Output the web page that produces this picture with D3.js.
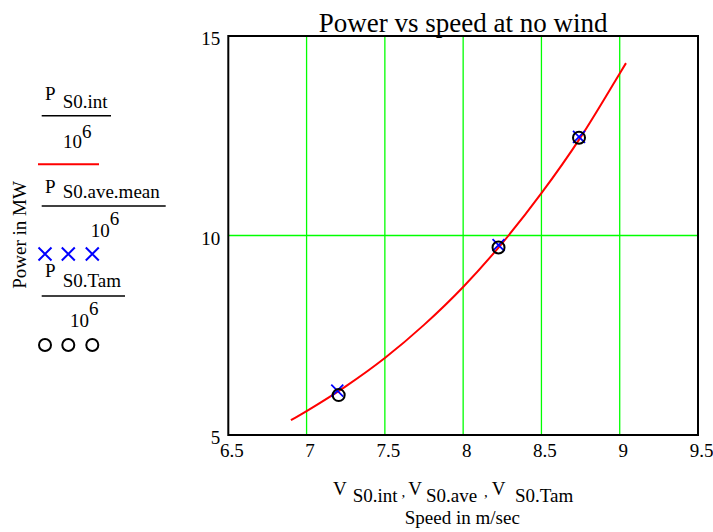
<!DOCTYPE html>
<html>
<head>
<meta charset="utf-8">
<script src="https://cdn.jsdelivr.net/npm/d3@7/dist/d3.min.js"></script>
<style>
  html, body { margin: 0; padding: 0; background: #fff; }
  svg { display: block; }
  text { font-family: "Liberation Serif", "Times New Roman", serif; fill: #000; }
</style>
</head>
<body>
<script>
// Interpolated power curve (MW) against speed (m/s)
const speedCurve = [6.90, 7.00, 7.25, 7.50, 7.75, 8.00, 8.25, 8.50, 8.75, 9.00, 9.04];
const powerCurve = [5.37, 5.60, 6.22, 6.93, 7.76, 8.71, 9.81, 11.06, 12.46, 14.06, 14.32];

// Averaged measurements
const speedAve = [7.196, 8.226, 8.740];
const powerAve = [6.11, 9.76, 12.47];

// Tamura measurements
const speedTam = [7.205, 8.226, 8.740];
const powerTam = [6.00, 9.70, 12.45];

const xTicks = [6.5, 7, 7.5, 8, 8.5, 9, 9.5];
const yTicks = [5, 10, 15];
const xGrid = [7, 7.5, 8, 8.5, 9];
const yGrid = [10];

const W = 713, H = 532;
const plotL = 228.3, plotR = 698, plotT = 36, plotB = 435;

const svg = d3.select("body").append("svg").attr("width", W).attr("height", H);

const x = d3.scaleLinear().domain([6.5, 9.5]).range([plotL, plotR]);
const y = d3.scaleLinear().domain([5, 15]).range([plotB, plotT]);

// grid
svg.append("g").selectAll("line").data(xGrid).join("line")
  .attr("x1", d => x(d)).attr("x2", d => x(d))
  .attr("y1", plotT).attr("y2", plotB)
  .attr("stroke", "#00ff00").attr("stroke-width", 1.3);
svg.append("g").selectAll("line").data(yGrid).join("line")
  .attr("y1", d => y(d)).attr("y2", d => y(d))
  .attr("x1", plotL).attr("x2", plotR)
  .attr("stroke", "#00ff00").attr("stroke-width", 1.3);

// axes (tick labels only, frame drawn separately)
const xAxis = d3.axisBottom(x).tickValues(xTicks).tickSize(0).tickPadding(9)
  .tickFormat(d3.format("~g"));
svg.append("g").attr("transform", `translate(0,${plotB})`).call(xAxis)
  .call(g => g.select(".domain").remove())
  .call(g => g.attr("font-family", null))
  .selectAll("text").attr("font-size", 19).attr("fill", "#000").attr("dx", 3);

const yAxis = d3.axisLeft(y).tickValues(yTicks).tickSize(0).tickPadding(8)
  .tickFormat(d3.format("~g"));
svg.append("g").attr("transform", `translate(${plotL},0)`).call(yAxis)
  .call(g => g.select(".domain").remove())
  .call(g => g.attr("font-family", null))
  .selectAll("text").attr("font-size", 19).attr("fill", "#000").attr("dy", "0.45em");

// frame
svg.append("rect").attr("x", plotL).attr("y", plotT)
  .attr("width", plotR - plotL).attr("height", plotB - plotT)
  .attr("fill", "none").attr("stroke", "#000").attr("stroke-width", 2);

// curve
const curveData = speedCurve.map((s, i) => [s, powerCurve[i]]);
svg.append("path").datum(curveData)
  .attr("d", d3.line().x(d => x(d[0])).y(d => y(d[1])).curve(d3.curveMonotoneX))
  .attr("fill", "none").attr("stroke", "#ff0000").attr("stroke-width", 2);

// marker helpers
function crossPath(cx, cy, r) {
  return `M${cx - r},${cy - r}L${cx + r},${cy + r}M${cx - r},${cy + r}L${cx + r},${cy - r}`;
}

// Averaged points: blue crosses
svg.append("g").selectAll("path").data(speedAve.map((s, i) => [s, powerAve[i]])).join("path")
  .attr("d", d => crossPath(x(d[0]), y(d[1]), 6))
  .attr("stroke", "#0000ff").attr("stroke-width", 1.8).attr("fill", "none");

// Tamura points: black circles
svg.append("g").selectAll("circle").data(speedTam.map((s, i) => [s, powerTam[i]])).join("circle")
  .attr("cx", d => x(d[0])).attr("cy", d => y(d[1])).attr("r", 6)
  .attr("fill", "none").attr("stroke", "#000").attr("stroke-width", 2);

// title
svg.append("text").attr("x", (plotL + plotR) / 2).attr("y", 31.5)
  .attr("text-anchor", "middle").attr("font-size", 27).text("Power vs speed at no wind");

// x-axis labels
const xl = svg.append("text").attr("x", 333).attr("y", 495).attr("font-size", 19);
xl.append("tspan").text("V");
xl.append("tspan").attr("x", 352.7).attr("y", 501.7).text("S0.int");
xl.append("tspan").attr("x", 401.5).attr("y", 497).attr("font-size", 15).text(",");
xl.append("tspan").attr("x", 408.3).attr("y", 495).text("V");
xl.append("tspan").attr("x", 426).attr("y", 501.7).text("S0.ave");
xl.append("tspan").attr("x", 484).attr("y", 497).attr("font-size", 15).text(",");
xl.append("tspan").attr("x", 491.7).attr("y", 495).text("V");
xl.append("tspan").attr("x", 515).attr("y", 501.7).text("S0.Tam");

svg.append("text").attr("x", 462.3).attr("y", 524).attr("text-anchor", "middle")
  .attr("font-size", 19).text("Speed in m/sec");

// y-axis label
svg.append("text").attr("transform", "translate(26,235) rotate(-90)")
  .attr("text-anchor", "middle").attr("font-size", 19).text("Power in MW");

// legend
const legend = [
  { sub: "S0.int", pBase: 100, subBase: 108.3, lineY: 115.7, lineX2: 111, tenX: 63, tenBase: 148, sixBase: 138, marker: "line", my: 164.3 },
  { sub: "S0.ave.mean", pBase: 193.3, subBase: 198.3, lineY: 206, lineX2: 165.7, tenX: 90.7, tenBase: 236.7, sixBase: 225, marker: "cross", my: 254 },
  { sub: "S0.Tam", pBase: 276.7, subBase: 286.7, lineY: 296, lineX2: 125, tenX: 70, tenBase: 327.3, sixBase: 315, marker: "circle", my: 345 }
];
const lg = svg.append("g");
legend.forEach(e => {
  const t = lg.append("text").attr("x", 45).attr("y", e.pBase).attr("font-size", 19);
  t.append("tspan").text("P");
  t.append("tspan").attr("x", 62.7).attr("y", e.subBase).text(e.sub);
  lg.append("line").attr("x1", 41.7).attr("x2", e.lineX2).attr("y1", e.lineY).attr("y2", e.lineY)
    .attr("stroke", "#000").attr("stroke-width", 1.5);
  const ten = lg.append("text").attr("x", e.tenX).attr("y", e.tenBase).attr("font-size", 19);
  ten.append("tspan").text("10");
  ten.append("tspan").attr("y", e.sixBase).text("6");
  if (e.marker === "line") {
    lg.append("line").attr("x1", 38).attr("x2", 99).attr("y1", e.my).attr("y2", e.my)
      .attr("stroke", "#ff0000").attr("stroke-width", 2);
  } else if (e.marker === "cross") {
    [45, 68.3, 92.3].forEach(cx => lg.append("path").attr("d", crossPath(cx, e.my, 6.5))
      .attr("stroke", "#0000ff").attr("stroke-width", 2).attr("fill", "none"));
  } else {
    [45, 68.3, 92.3].forEach(cx => lg.append("circle").attr("cx", cx).attr("cy", e.my).attr("r", 6)
      .attr("stroke", "#000").attr("stroke-width", 2).attr("fill", "none"));
  }
});
</script>
</body>
</html>
